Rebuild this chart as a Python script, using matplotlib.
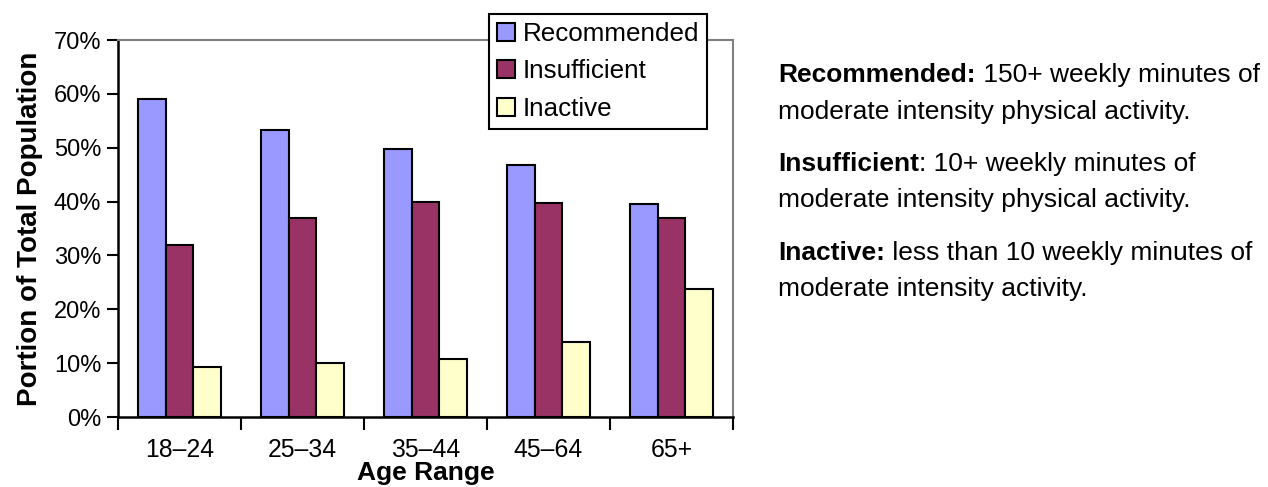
import matplotlib
matplotlib.use("Agg")
import matplotlib.pyplot as plt
import numpy as np

# data
age_ranges = ["18–24", "25–34", "35–44", "45–64", "65+"]
recommended = [59.0, 53.3, 49.7, 46.7, 39.5]
insufficient = [32.0, 37.0, 39.9, 39.7, 37.0]
inactive = [9.2, 10.0, 10.8, 13.9, 23.8]

series = [
    ("Recommended", recommended, "#9999FF"),
    ("Insufficient", insufficient, "#993366"),
    ("Inactive", inactive, "#FFFFCC"),
]

notes = [
    ("Recommended:", " 150+ weekly minutes of", "moderate intensity physical activity."),
    ("Insufficient", ": 10+ weekly minutes of", "moderate intensity physical activity."),
    ("Inactive:", " less than 10 weekly minutes of", "moderate intensity activity."),
]

plt.rcParams["font.family"] = ["Liberation Sans", "DejaVu Sans"]

W, H = 1268, 487
fig = plt.figure(figsize=(W / 100, H / 100), dpi=100)
ax = fig.add_axes([118 / W, 1 - 417 / H, (733 - 118) / W, (417 - 40) / H])

x = np.arange(len(age_ranges))
bar_w = 0.224
for i, (name, vals, color) in enumerate(series):
    ax.bar(x + (i - 1) * bar_w, vals, width=bar_w, color=color,
           edgecolor="black", linewidth=1.5, label=name, zorder=3)

ax.set_xlim(-0.5, len(age_ranges) - 0.5)
ax.set_ylim(0, 70)

# y axis
ax.set_yticks(np.arange(0, 71, 10))
ax.set_yticklabels([f"{v}%" for v in range(0, 71, 10)])
ax.tick_params(axis="y", direction="out", length=8, width=1.5, labelsize=17, pad=4)

# x axis: tick marks between categories, labels at centres
ax.set_xticks(np.arange(-0.5, len(age_ranges), 1.0))
ax.set_xticklabels([])
ax.set_xticks(x, minor=True)
ax.set_xticklabels(age_ranges, minor=True)
ax.tick_params(axis="x", which="major", direction="out", length=9, width=1.5)
ax.tick_params(axis="x", which="minor", length=0, labelsize=17.8, pad=15)

for side in ["left", "bottom"]:
    ax.spines[side].set_color("black")
    ax.spines[side].set_linewidth(1.8)
for side in ["top", "right"]:
    ax.spines[side].set_color("#808080")
    ax.spines[side].set_linewidth(1.5)

ax.set_xlabel("Age Range", fontsize=19, fontweight="bold", labelpad=-0.5)
ax.set_ylabel("Portion of Total Population", fontsize=20, fontweight="bold", labelpad=8)

leg = fig.legend(loc="upper left", bbox_to_anchor=(489 / W, 1 - 14 / H),
                 fontsize=18.7, frameon=True, fancybox=False, handlelength=0.7,
                 handleheight=0.7, handletextpad=0.3, borderpad=0.3,
                 labelspacing=0.52, borderaxespad=0)
leg.get_frame().set_edgecolor("black")
leg.get_frame().set_linewidth(1.5)
leg.get_frame().set_alpha(1)

# explanatory notes on the right
renderer = fig.canvas.get_renderer()
x0 = 778 / W
line_y = [(75, 112), (164, 200), (253, 289)]
for (bold, rest, second), (y1, y2) in zip(notes, line_y):
    t = fig.text(x0, 1 - y1 / H, bold, fontsize=19, fontweight="bold", va="center")
    bb = t.get_window_extent(renderer=renderer)
    fig.text(bb.x1 / W, 1 - y1 / H, rest, fontsize=19, va="center")
    fig.text(x0, 1 - y2 / H, second, fontsize=19, va="center")

fig.savefig("out.png", dpi=100)
